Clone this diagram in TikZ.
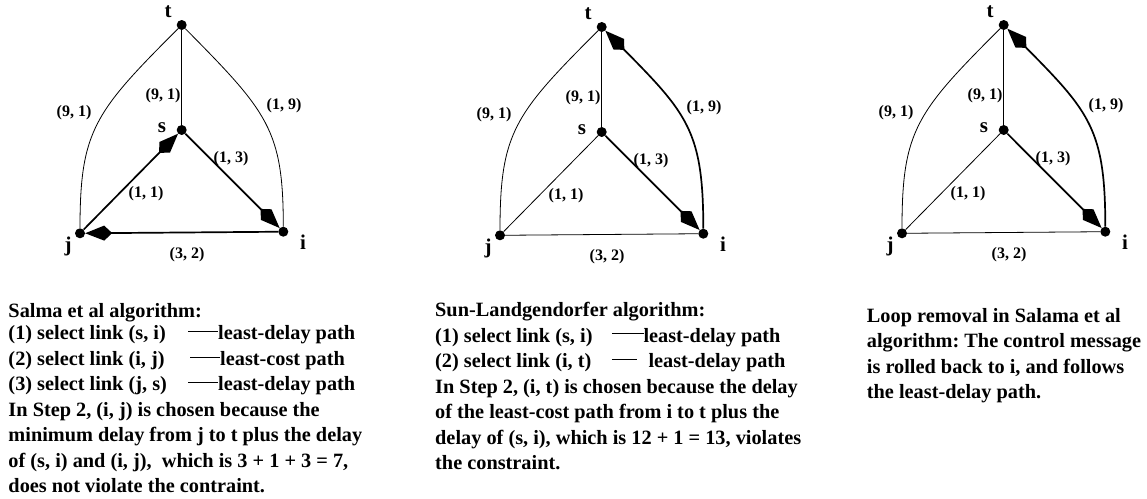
\documentclass[tikz,border=0pt]{standalone}
\usepackage{fontspec}
\setmainfont{Liberation Serif}
\usetikzlibrary{arrows.meta}

\newcommand{\linkrule}[1]{\rule[0.38em]{#1}{0.9pt}}

\begin{document}
\frenchspacing
\begin{tikzpicture}[
  x=1pt, y=-1pt,
  vertex/.style={circle, fill=black, inner sep=0pt, minimum size=10pt},
  vname/.style={font=\fontsize{21}{24}\selectfont\bfseries, inner sep=0pt},
  weight/.style={font=\fontsize{16}{19}\selectfont\bfseries, inner sep=0pt},
  link/.style={line width=0.8pt},
  hop/.style={line width=1.7pt, -{Kite[length=27pt,width=15pt,inset=8pt]}},
  caption/.style={anchor=north west, align=left, inner sep=0pt,
    font=\fontsize{20.3}{25.5}\selectfont\bfseries}
]
\useasboundingbox (0,0) rectangle (1147,498);

% the same network, three times
\foreach \g/\dx/\dy in {1/0/0, 2/420/2, 3/822/0}{
  \begin{scope}[shift={(\dx,\dy)}]
    \node[vertex] (t\g) at (181.7,25) {};
    \node[vertex] (s\g) at (181.7,130) {};
    \node[vertex] (j\g) at (80,233.3) {};
    \node[vertex] (i\g) at (283.3,231.7) {};
    \node[vname] (tname\g) at (168,12) {t};
    \node[vname] (sname\g) at (162,128) {s};
    \node[vname] (jname\g) at (68,246) {j};
    \node[vname] (iname\g) at (303,242) {i};

    \node[weight] (wtj\g) at (74,113) {(9, 1)};
    \node[weight] (wts\g) at (163,96) {(9, 1)};
    \node[weight] (wti\g) at (284,106) {(1, 9)};
    \node[weight] (wsi\g) at (231,159) {(1, 3)};
    \node[weight] (wjs\g) at (146,194) {(1, 1)};
    \node[weight] (wji\g) at (187,255) {(3, 2)};

    \draw[link] (t\g) -- (s\g);
    \draw[link] (t\g) .. controls +(-87,87) and +(0,-103) .. (j\g);
    \draw[hop] (s\g) -- (i\g);
  \end{scope}
}

% Salama et al
\draw[hop] (j1) -- (s1);
\draw[hop] (i1) -- (j1);
\draw[link] (i1) .. controls +(0,-102) and +(86,87) .. (t1);

% Sun-Landgendorfer and loop removal
\foreach \g in {2,3}{
  \draw[link] (j\g) -- (s\g);
  \draw[link] (j\g) -- (i\g);
  \draw[hop] (i\g) .. controls +(0,-102) and +(86,87) .. (t\g);
}

\node[caption] (salama) at (8.3,303) {Salma et al algorithm:\\[-3pt]
\makebox[179.7pt][l]{(1) select link (s, i)}\linkrule{30pt}least-delay path\\
\makebox[181.7pt][l]{(2) select link (i, j)}\linkrule{30pt}least-cost path\\
\makebox[179.7pt][l]{(3) select link (j, s)}\linkrule{30pt}least-delay path\\
In Step 2, (i, j) is chosen because the\\
minimum delay from j to t plus the delay\\
of (s, i) and (i, j),\ \ which is 3 + 1 + 3 = 7,\\
does not violate the contraint.};

\node[caption] (sunland) at (435,302) {Sun-Landgendorfer algorithm:\\
\makebox[176.7pt][l]{(1) select link (s, i)}\linkrule{31.6pt}least-delay path\\
\makebox[176.7pt][l]{(2) select link (i, t)}\linkrule{25pt}\hspace{11.6pt}least-delay path\\
In Step 2, (i, t) is chosen because the delay\\
of the least-cost path from i to t plus the\\
delay of (s, i), which is 12 + 1 = 13, violates\\
the constraint.};

\node[caption] (loopfix) at (866.7,308) {Loop removal in Salama et al\\
algorithm: The control message\\
is rolled back to i, and follows\\
the least-delay path.};
\end{tikzpicture}
\end{document}
